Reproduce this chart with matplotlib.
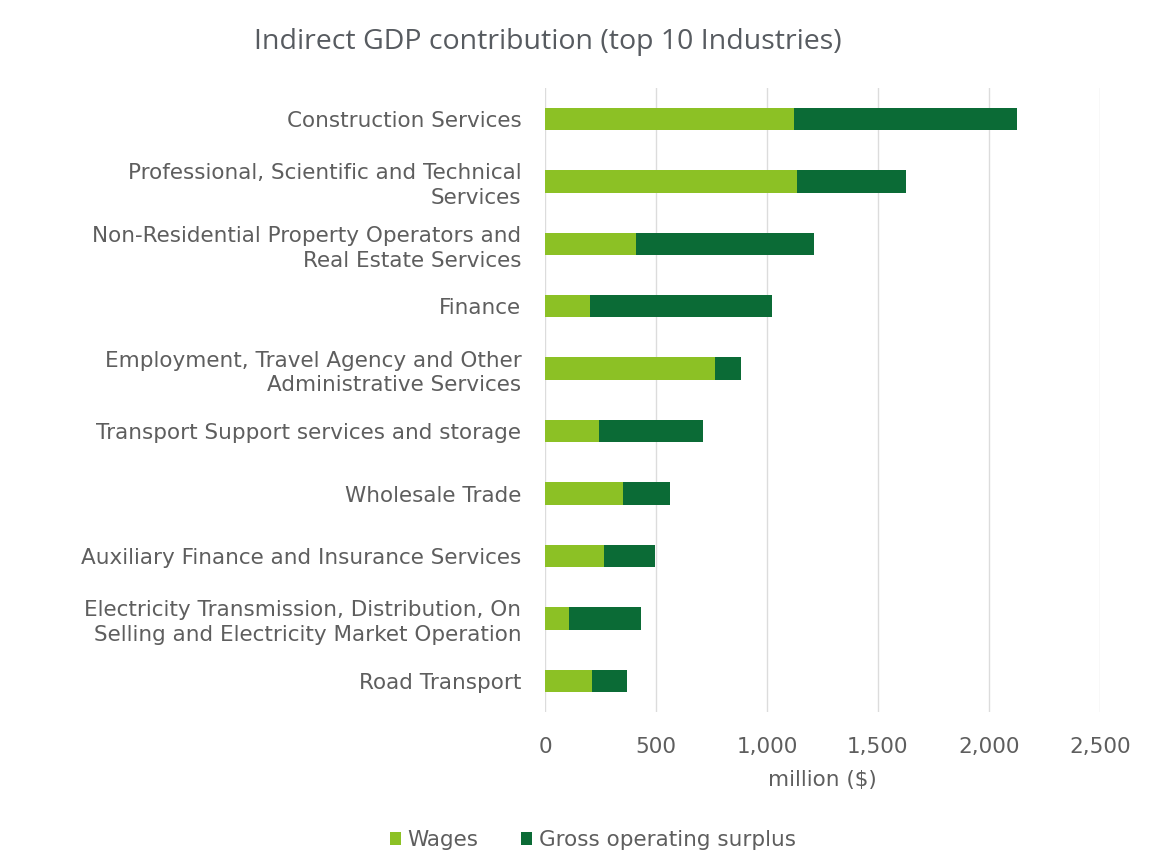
import matplotlib.pyplot as plt
import numpy as np
from matplotlib.ticker import FuncFormatter

industries = [
    "Construction Services",
    "Professional, Scientific and Technical\nServices",
    "Non-Residential Property Operators and\nReal Estate Services",
    "Finance",
    "Employment, Travel Agency and Other\nAdministrative Services",
    "Transport Support services and storage",
    "Wholesale Trade",
    "Auxiliary Finance and Insurance Services",
    "Electricity Transmission, Distribution, On\nSelling and Electricity Market Operation",
    "Road Transport",
]
wages = [1123, 1136, 409, 205, 764, 245, 353, 265, 106, 213]
surplus = [1004, 491, 805, 818, 118, 469, 211, 230, 326, 158]

light = "#8cc125"
dark = "#0b6b36"
grey = "#5e5e5e"

fig = plt.figure(figsize=(11.51, 8.59), dpi=100)
ax = fig.add_axes([0.4735, 0.171, 0.482, 0.727])

y = np.arange(len(industries))
ax.barh(y, wages, height=0.36, color=light, label="Wages", zorder=3)
ax.barh(y, surplus, left=wages, height=0.36, color=dark,
        label="Gross operating surplus", zorder=3)

ax.set_ylim(len(industries) - 0.5, -0.5)
ax.set_xlim(0, 2500)
ax.set_xticks([0, 500, 1000, 1500, 2000, 2500])
ax.xaxis.set_major_formatter(FuncFormatter(lambda v, p: f"{int(v):,}"))
ax.set_yticks(y)
ax.set_yticklabels(industries, fontsize=15.5, color=grey)
for t in ax.get_yticklabels():
    t.set_linespacing(1.3)
ax.tick_params(axis="y", length=0, pad=17)
ax.tick_params(axis="x", length=0, pad=18, labelsize=15.5, labelcolor=grey)
ax.xaxis.grid(True, color="#dcdcdc", linewidth=1, zorder=0)
for s in ax.spines.values():
    s.set_visible(False)

ax.set_xlabel("million ($)", fontsize=15.5, color=grey, labelpad=9)

fig.text(0.476, 0.951, "Indirect GDP contribution (top 10 Industries)",
         ha="center", va="center", fontsize=20.5, color="#575b60",
         family="Open Sans")

fig.legend(loc="center", bbox_to_anchor=(0.515, 0.022), ncol=2, frameon=False,
           fontsize=15.5, labelcolor=grey, handlelength=0.5, handleheight=0.5,
           handletextpad=0.3, columnspacing=2.0)

fig.savefig("out.png", dpi=100)
